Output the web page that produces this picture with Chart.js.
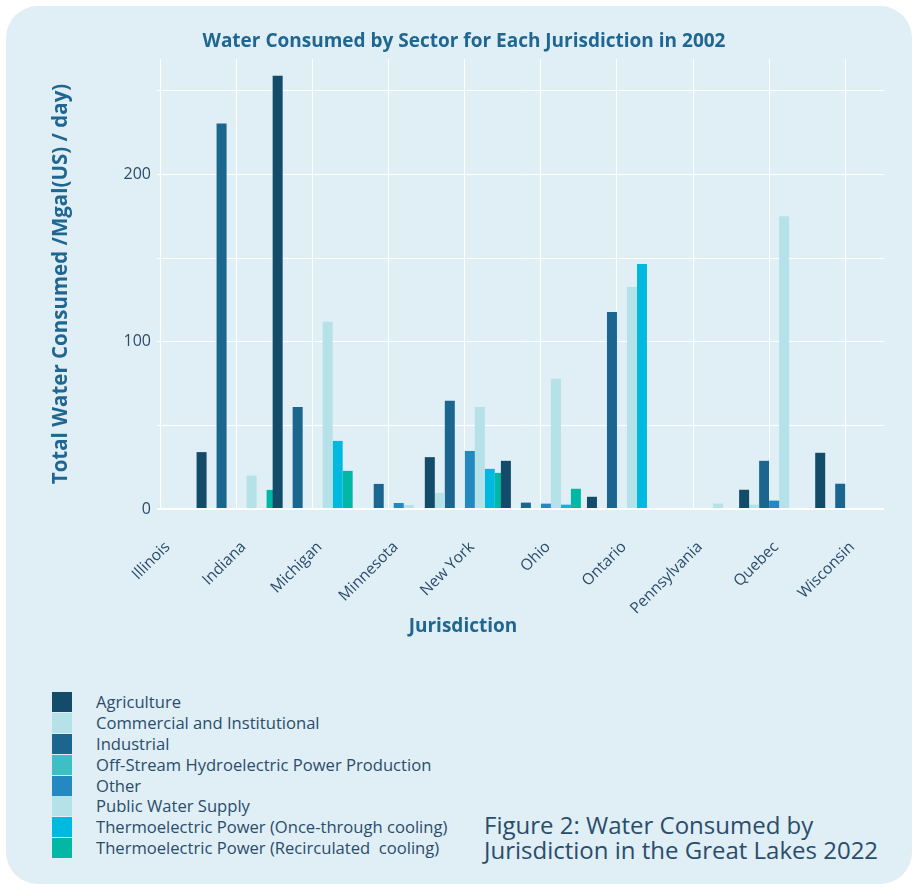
<!DOCTYPE html>
<html>
<head>
<meta charset="utf-8">
<script src="https://cdn.jsdelivr.net/npm/chart.js@4.4.0/dist/chart.umd.min.js"></script>
<style>
  body { margin: 0; width: 918px; height: 890px; background: #fff; position: relative; overflow: hidden; font-family: 'Open Sans', sans-serif; }
  #card { position: absolute; left: 6px; top: 6px; width: 906px; height: 878px; background: #e0eef5; border-radius: 32px; }
  #chart { position: absolute; left: 0; top: 0; }
  #title { position: absolute; left: 0; top: 27px; width: 928px; text-align: center; font: bold 19px 'Open Sans', sans-serif; color: #1f6690; }
  #xtitle { position: absolute; left: 0; top: 612px; width: 926px; text-align: center; font: bold 19px 'Open Sans', sans-serif; color: #1f6690; }
  #legend { position: absolute; left: 52px; top: 692px; }
  .row { height: 20.9px; display: flex; align-items: flex-start; }
  .sw { width: 20px; height: 20px; flex: none; }
  .lbl { margin-left: 24px; font-size: 16.6px; line-height: 20px; color: #2a4d6b; white-space: pre; }
  #caption { position: absolute; left: 484px; top: 812px; font: 24px 'Open Sans', sans-serif; line-height: 25px; color: #2a4d6b; }
</style>
</head>
<body>
<div id="card"></div>
<canvas id="chart" width="918" height="642"></canvas>
<div id="title">Water Consumed by Sector for Each Jurisdiction in 2002</div>
<div id="xtitle">Jurisdiction</div>
<div id="legend"></div>
<div id="caption">Figure 2: Water Consumed by<br>Jurisdiction in the Great Lakes 2022</div>
<script>
var jurisdictions = ['Illinois', 'Indiana', 'Michigan', 'Minnesota', 'New York', 'Ohio', 'Ontario', 'Pennsylvania', 'Quebec', 'Wisconsin'];

var sectors = [
    'Agriculture',
    'Commercial and Institutional',
    'Industrial',
    'Off-Stream Hydroelectric Power Production',
    'Other',
    'Public Water Supply',
    'Thermoelectric Power (Once-through cooling)',
    'Thermoelectric Power (Recirculated  cooling)'
];

// Mgal(US)/day, one value per jurisdiction; null = sector not reported there
var agriculture  = [null, 34, 259, 0, 31, 28.8, 7.3, 0, 11.5, 33.6];
var commercial   = [null, 0, 0, 0, 9.6, 0, 0, 0, 2.6, 0];
var industrial   = [null, 230.5, 61, 15, 64.7, 3.8, 117.8, 0, 28.8, 15.1];
var offStream    = [null, 0, 0, 0, 0, 0, null, 0, null, null];
var other        = [null, 0, 0, 3.6, 34.7, 3.2, 0, 0, 5, 0];
var publicSupply = [null, 20, 112, 2.4, 61, 77.8, 132.7, 3.2, 175, 0];
var onceThrough  = [null, 0, 40.7, 0, 24, 2.6, 146.5, null, 0, 0];
var recirculated = [null, 11.4, 22.8, null, 21.6, 12.1, null, null, null, null];

var yTicks = [0, 50, 100, 150, 200, 250];
var yLabelled = [0, 100, 200];

var sectorValues = [agriculture, commercial, industrial, offStream, other, publicSupply, onceThrough, recirculated];
var sectorColors = ['#134b6a', '#b5e1e8', '#1b668f', '#3dbfc3', '#2389c0', '#b5e1e8', '#00b9de', '#00b8a4'];

var textColor = '#2a4d6b';
var titleColor = '#1f6690';

var chart = new Chart(document.getElementById('chart'), {
    type: 'bar',
    data: {
        labels: jurisdictions.map(function (name, i) { return i; }),
        datasets: sectors.map(function (name, i) {
            return {
                label: name,
                data: sectorValues[i],
                backgroundColor: sectorColors[i],
                borderWidth: 0,
                inflateAmount: 0,
                barThickness: 10,
                skipNull: true
            };
        })
    },
    options: {
        responsive: false,
        animation: false,
        layout: { padding: { left: 46, top: 59, right: 34, bottom: 0 } },
        plugins: {
            legend: { display: false },
            tooltip: { enabled: false }
        },
        scales: {
            x: {
                type: 'linear',
                offset: false,
                min: -0.046,
                max: 9.51,
                afterBuildTicks: function (scale) {
                    scale.ticks = jurisdictions.map(function (name, i) { return { value: i }; });
                },
                afterFit: function (scale) { scale.height = 133; },
                grid: { offset: false, color: '#ffffff', lineWidth: 1, drawTicks: false },
                border: { display: false },
                ticks: {
                    autoSkip: false,
                    maxRotation: 45,
                    minRotation: 45,
                    padding: 29,
                    labelOffset: 7,
                    color: textColor,
                    font: { family: 'Open Sans', size: 15.5 },
                    callback: function (v) { return jurisdictions[v]; }
                }
            },
            y: {
                min: 0,
                max: 269,
                afterBuildTicks: function (scale) {
                    scale.ticks = yTicks.map(function (v) { return { value: v }; });
                },
                afterFit: function (scale) { scale.width = 111; },
                grid: {
                    color: '#ffffff',
                    drawTicks: false,
                    lineWidth: function (ctx) { return ctx.tick && ctx.tick.value === 0 ? 2 : 1; }
                },
                border: { display: false },
                ticks: {
                    padding: 6,
                    color: textColor,
                    font: { family: 'Open Sans', size: 16 },
                    callback: function (v) { return yLabelled.indexOf(v) >= 0 ? v : ''; }
                },
                title: {
                    display: true,
                    text: 'Total Water Consumed /Mgal(US) / day)',
                    color: titleColor,
                    padding: { top: 3, bottom: 4 },
                    font: { family: 'Open Sans', size: 20.5, weight: 'bold' }
                }
            }
        }
    }
});

// legend list built from the same sector arrays
var legend = document.getElementById('legend');
sectors.forEach(function (name, i) {
    var row = document.createElement('div');
    row.className = 'row';
    row.innerHTML = '<div class="sw" style="background:' + sectorColors[i] + '"></div><div class="lbl"></div>';
    row.lastChild.textContent = name;
    legend.appendChild(row);
});
</script>
</body>
</html>
